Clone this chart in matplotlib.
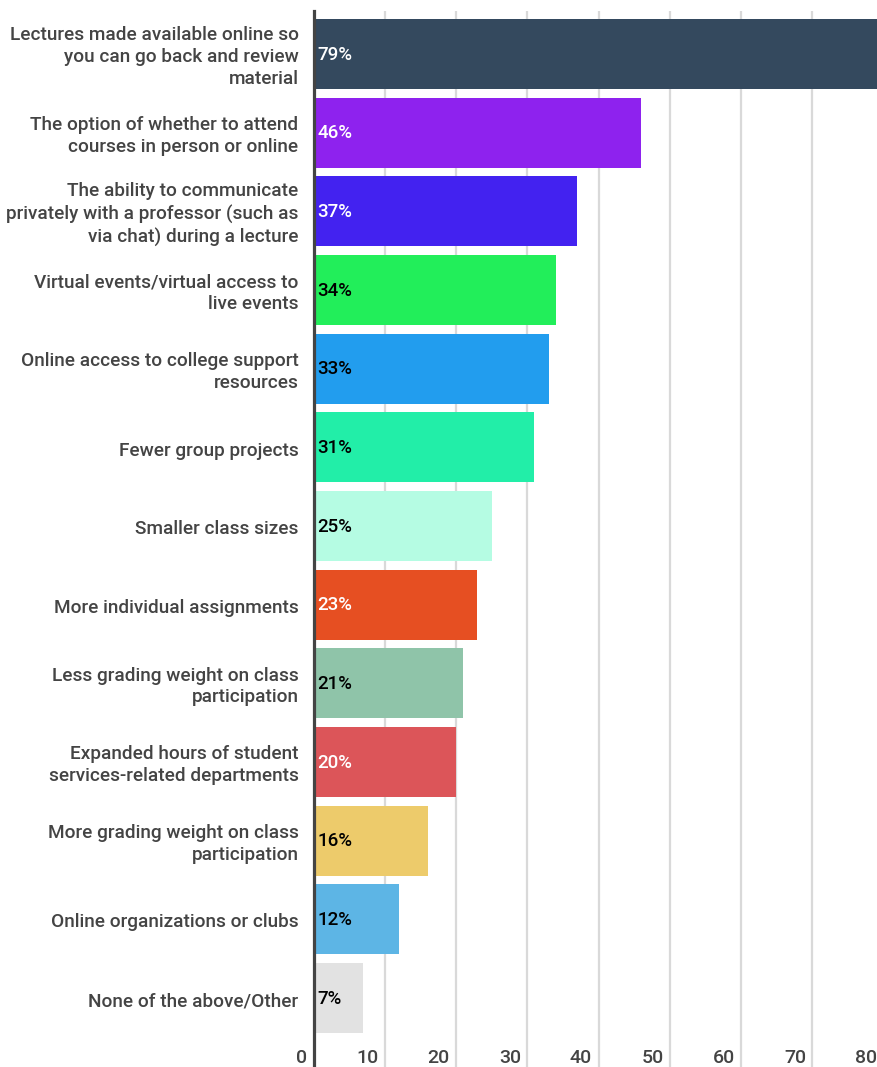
import numpy as np
import matplotlib.pyplot as plt

categorias = [
    'Lectures made available online so\nyou can go back and review\nmaterial',
    'The option of whether to attend\ncourses in person or online',
    'The ability to communicate\nprivately with a professor (such as\nvia chat) during a lecture',
    'Virtual events/virtual access to\nlive events',
    'Online access to college support\nresources',
    'Fewer group projects',
    'Smaller class sizes',
    'More individual assignments',
    'Less grading weight on class\nparticipation',
    'Expanded hours of student\nservices-related departments',
    'More grading weight on class\nparticipation',
    'Online organizations or clubs',
    'None of the above/Other',
]
valores = [79, 46, 37, 34, 33, 31, 25, 23, 21, 20, 16, 12, 7]
colores = ['#34495e', '#8e22ee', '#4322f0', '#22ee5a', '#229dee', '#22eea8',
           '#b5fce3', '#e64f22', '#8fc4a9', '#dc5559', '#edcb6b', '#5db5e5',
           '#e2e2e2']
color_texto = ['white', 'white', 'white', 'black', 'black', 'black',
               'black', 'white', 'black', 'white', 'black', 'black', 'black']
ticks = [0, 10, 20, 30, 40, 50, 60, 70, 80]

plt.rcParams['font.family'] = ['Roboto', 'DejaVu Sans']

fig = plt.figure(figsize=(8.77, 10.67), dpi=100)
ax = fig.add_axes([313.5 / 877, 0, 1 - 313.5 / 877, 1 - 11 / 1067])

y = np.arange(len(valores))
ax.barh(y, valores, height=0.89, color=colores, zorder=2)

ax.set_xlim(0, 79.05)
ax.set_ylim(12.877, -0.547)

for t in ticks[1:]:
    ax.axvline(t, color='#d9d9d9', lw=1.6, zorder=1)
for t in ticks:
    ax.text(t - 0.9, 12.76, str(t), ha='right', va='center', fontsize=14,
            color='#444444', fontweight='medium', zorder=3)

for i, (v, c) in enumerate(zip(valores, color_texto)):
    ax.text(0.55, i + 0.01, '{}%'.format(v), ha='left', va='center',
            fontsize=13.5, color=c, fontweight='medium', zorder=3)

# etiquetas de categoria a la izquierda del eje
for i, cat in enumerate(categorias):
    ax.text(-2.1, i + 0.04, cat, ha='right', va='center', fontsize=13.7,
            color='#444444', fontweight='medium', linespacing=1.28,
            clip_on=False)

ax.set_xticks([])
ax.set_yticks([])
for s in ['top', 'right', 'bottom']:
    ax.spines[s].set_visible(False)
ax.spines['left'].set_color('#444444')
ax.spines['left'].set_linewidth(2.3)
ax.spines['left'].set_zorder(4)

fig.savefig('out.png', dpi=100)
